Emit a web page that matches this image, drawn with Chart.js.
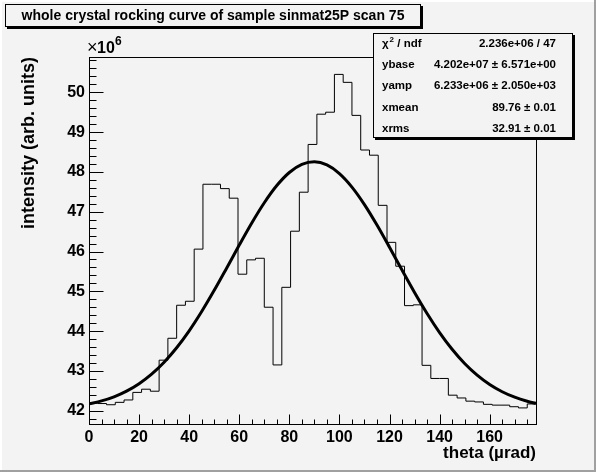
<!DOCTYPE html>
<html lang="en">
<head>
  <meta charset="UTF-8">
  <title>whole crystal rocking curve of sample sinmat25P scan 75</title>
  <script src="https://cdn.jsdelivr.net/npm/chart.js"></script>
  <style>
    html, body {
      margin: 0;
      padding: 0;
      background-color: #f3f3f3;
    }
    #chart-container {
      width: 596px;
      height: 472px;
    }
  </style>
</head>
<body>
<div id="chart-container">
  <canvas id="rockingChart" width="596" height="472"></canvas>
</div>

<script>
  // intensities are in units of 10^6 (the axis carries the x10^6 factor)
  const binWidth = 3.5;
  const counts = [
    42.19, 42.18, 42.15, 42.21, 42.27, 42.46, 42.54, 42.49, 43.27, 43.82,
    44.65, 44.75, 46.06, 47.69, 47.69, 47.58, 47.34, 45.43, 45.79, 45.83,
    44.60, 43.15, 45.10, 46.51, 47.49, 48.69, 49.45, 49.50, 50.45, 50.25,
    49.42, 48.55, 48.42, 47.16, 46.23, 45.63, 44.64, 44.66, 43.14, 42.81,
    42.81, 42.39, 42.32, 42.24, 42.22, 42.16, 42.14, 42.14, 42.10, 42.07,
    42.17
  ];

  // gaussian fit
  const fitX = [0, 5, 10, 15, 20, 25, 30, 35, 40, 45, 50, 55, 60, 65, 70, 75, 80, 85, 90,
    95, 100, 105, 110, 115, 120, 125, 130, 135, 140, 145, 150, 155, 160, 165, 170, 175, 178.5];
  const fitY = [42.171, 42.246, 42.350, 42.492, 42.679, 42.919, 43.219, 43.582, 44.007, 44.492,
    45.024, 45.588, 46.161, 46.717, 47.225, 47.657, 47.985, 48.188, 48.253, 48.174,
    47.958, 47.619, 47.179, 46.665, 46.107, 45.533, 44.971, 44.443, 43.964, 43.544,
    43.187, 42.894, 42.659, 42.477, 42.339, 42.238, 42.184];

  const xTicks = [0, 20, 40, 60, 80, 100, 120, 140, 160];
  const yTicks = [42, 43, 44, 45, 46, 47, 48, 49, 50];
  const xRange = [0, 178.5];
  const yRange = [41.666, 50.887];

  const titleText = 'whole crystal rocking curve of sample sinmat25P scan 75';
  const statLabels = ['χ', 'ybase', 'yamp', 'xmean', 'xrms'];
  const statValues = ['2.236e+06 / 47', '4.202e+07 ± 6.571e+00', '6.233e+06 ± 2.050e+03',
    '89.76 ± 0.01', '32.91 ± 0.01'];

  const FONT = '"Liberation Sans", Arial, sans-serif';
  const BG = '#f3f3f3';

  const histPoints = counts.map((v, i) => ({ x: i * binWidth, y: v }));
  histPoints.push({ x: counts.length * binWidth, y: counts[counts.length - 1] });

  function pave(ctx, x, y, w, h) {
    ctx.fillStyle = '#000';
    ctx.fillRect(x + 2, y + 2, w, h);
    ctx.fillStyle = BG;
    ctx.fillRect(x, y, w, h);
    ctx.strokeStyle = '#000';
    ctx.lineWidth = 1;
    ctx.strokeRect(x + 0.5, y + 0.5, w - 1, h - 1);
  }

  const rootStyle = {
    id: 'rootStyle',
    beforeDraw(chart) {
      const ctx = chart.ctx;
      const W = chart.width, H = chart.height;
      ctx.save();
      ctx.fillStyle = BG;
      ctx.fillRect(0, 0, W, H);
      ctx.fillStyle = '#ffffff';
      ctx.fillRect(0, 0, W, 2);
      ctx.fillRect(0, 0, 2, H);
      ctx.fillStyle = '#a0a0a0';
      ctx.fillRect(W - 2, 0, 2, H);
      ctx.fillRect(0, H - 2, W, 2);
      ctx.restore();
    },
    afterDraw(chart) {
      const ctx = chart.ctx;
      const a = chart.chartArea;
      const xs = chart.scales.x, ys = chart.scales.y;
      ctx.save();

      // frame
      ctx.strokeStyle = '#000';
      ctx.lineWidth = 1;
      ctx.strokeRect(Math.round(a.left) + 0.5, Math.round(a.top) + 0.5,
        Math.round(a.right - a.left), Math.round(a.bottom - a.top));

      // ticks drawn inside the frame, ROOT style
      ctx.beginPath();
      const left = Math.round(a.left) + 0.5;
      for (let k = Math.ceil(yRange[0] * 5); k <= yRange[1] * 5; k++) {
        const py = Math.round(ys.getPixelForValue(k / 5)) + 0.5;
        const len = k % 5 === 0 ? 14 : 7;
        ctx.moveTo(left, py);
        ctx.lineTo(left + len, py);
      }
      const bottom = Math.round(a.bottom) + 0.5;
      for (let k = 0; k * 5 <= xRange[1]; k++) {
        const px = Math.round(xs.getPixelForValue(k * 5)) + 0.5;
        const len = k % 4 === 0 ? 10 : 5;
        ctx.moveTo(px, bottom);
        ctx.lineTo(px, bottom - len);
      }
      ctx.stroke();

      // x10^6 exponent
      ctx.fillStyle = '#000';
      ctx.textBaseline = 'alphabetic';
      ctx.textAlign = 'left';
      ctx.font = '18px ' + FONT;
      ctx.fillText('×', 87, 53);
      ctx.font = 'bold 16px ' + FONT;
      ctx.fillText('10', 97, 53);
      ctx.font = 'bold 12px ' + FONT;
      ctx.fillText('6', 115, 45);

      // title pave
      pave(ctx, 5, 4, 416, 23);
      ctx.fillStyle = '#000';
      ctx.font = 'bold 14px ' + FONT;
      ctx.textAlign = 'center';
      ctx.textBaseline = 'middle';
      ctx.fillText(titleText, 213, 16);

      // fit statistics pave
      pave(ctx, 373, 33, 200, 105);
      ctx.fillStyle = '#000';
      const rows = [44, 65, 86, 107.5, 128.5];
      statLabels.forEach((lab, i) => {
        ctx.font = 'bold 11.5px ' + FONT;
        ctx.textAlign = 'left';
        ctx.fillText(lab, 382, rows[i]);
        if (i === 0) {
          const w = ctx.measureText(lab).width;
          ctx.font = 'bold 8px ' + FONT;
          ctx.fillText('2', 382 + w + 1, rows[i] - 4);
          const w2 = ctx.measureText('2').width;
          ctx.font = 'bold 11.5px ' + FONT;
          ctx.fillText(' / ndf', 382 + w + 1 + w2, rows[i]);
        }
        ctx.font = 'bold 11.5px ' + FONT;
        ctx.textAlign = 'right';
        ctx.fillText(statValues[i], 556, rows[i]);
      });

      ctx.restore();
    }
  };

  const ctx = document.getElementById('rockingChart').getContext('2d');
  const chart = new Chart(ctx, {
    type: 'line',
    data: {
      datasets: [
        {
          label: 'histogram',
          data: histPoints,
          stepped: true,
          borderColor: '#000',
          borderWidth: 1,
          pointRadius: 0,
          fill: false
        },
        {
          label: 'fit',
          data: fitX.map((x, i) => ({ x: x, y: fitY[i] })),
          borderColor: '#000',
          borderWidth: 3,
          pointRadius: 0,
          cubicInterpolationMode: 'monotone',
          fill: false
        }
      ]
    },
    options: {
      responsive: false,
      animation: false,
      events: [],
      layout: {
        padding: { top: 57, right: 60, left: 0, bottom: 0 }
      },
      plugins: {
        legend: { display: false },
        tooltip: { enabled: false },
        title: { display: false }
      },
      scales: {
        x: {
          type: 'linear',
          min: xRange[0],
          max: xRange[1],
          afterBuildTicks: scale => { scale.ticks = xTicks.map(v => ({ value: v })); },
          afterFit: scale => { scale.height = 48; },
          grid: { display: false, drawTicks: false },
          border: { display: false },
          ticks: {
            color: '#000',
            font: { family: FONT, size: 16, weight: 'bold' },
            padding: 4,
            maxRotation: 0,
            autoSkip: false
          },
          title: {
            display: true,
            text: 'theta (µrad)',
            align: 'end',
            color: '#000',
            font: { family: FONT, size: 17, weight: 'bold' },
            padding: { top: 0, bottom: 8 }
          }
        },
        y: {
          type: 'linear',
          min: yRange[0],
          max: yRange[1],
          afterBuildTicks: scale => { scale.ticks = yTicks.map(v => ({ value: v })); },
          afterFit: scale => { scale.width = 89; },
          grid: { display: false, drawTicks: false },
          border: { display: false },
          ticks: {
            color: '#000',
            font: { family: FONT, size: 16, weight: 'bold' },
            padding: 4,
            autoSkip: false,
            callback: v => String(v)
          },
          title: {
            display: true,
            text: 'intensity (arb. units)',
            align: 'end',
            color: '#000',
            font: { family: FONT, size: 18, weight: 'bold' },
            padding: { top: 18, bottom: 0 }
          }
        }
      }
    },
    plugins: [rootStyle]
  });
</script>
</body>
</html>
